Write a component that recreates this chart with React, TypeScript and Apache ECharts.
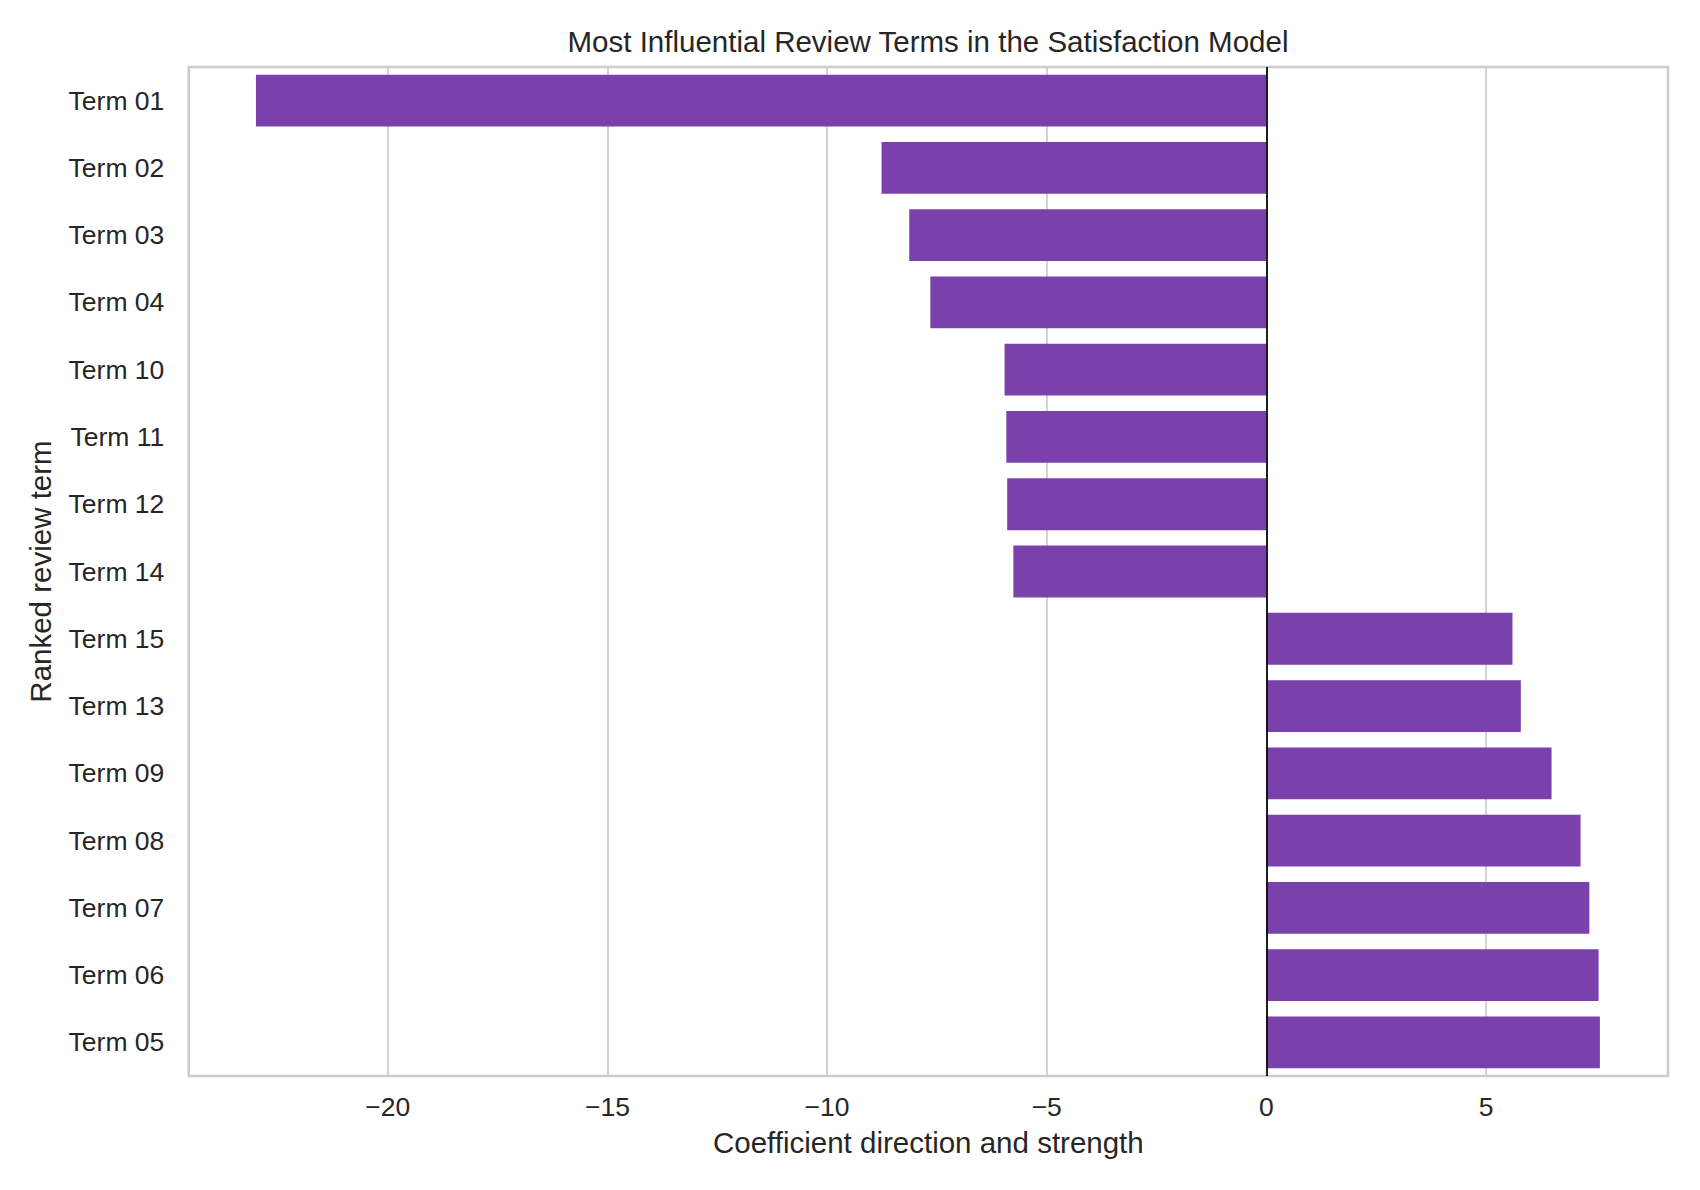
import React, { useEffect, useRef } from "react";
import * as echarts from "echarts";

const terms: string[] = [
  "Term 01", "Term 02", "Term 03", "Term 04", "Term 10",
  "Term 11", "Term 12", "Term 14", "Term 15", "Term 13",
  "Term 09", "Term 08", "Term 07", "Term 06", "Term 05",
];

const coefficients: number[] = [
  -23.0, -8.76, -8.13, -7.65, -5.96,
  -5.92, -5.9, -5.76, 5.6, 5.79,
  6.49, 7.15, 7.35, 7.56, 7.59,
];

const xMin = -24.53;
const xMax = 9.14;

const titleText = "Most Influential Review Terms in the Satisfaction Model";
const xName = "Coefficient direction and strength";
const yName = "Ranked review term";

const FONT = "'Liberation Sans', Arial, sans-serif";
const TEXT = "#262626";

export default function App() {
  const ref = useRef<HTMLDivElement>(null);

  useEffect(() => {
    document.body.style.margin = "0";
    if (!ref.current) return;
    const chart = echarts.init(ref.current, undefined, { renderer: "svg" });
    chart.setOption({
      animation: false,
      backgroundColor: "#ffffff",
      textStyle: { fontFamily: FONT, color: TEXT },
      title: {
        text: titleText,
        left: 928,
        top: 26.5,
        padding: 0,
        textAlign: "center",
        textStyle: { fontFamily: FONT, fontSize: 29.5, fontWeight: "normal", color: TEXT },
      },
      grid: {
        left: 188.7,
        right: 32,
        top: 67,
        bottom: 114,
        show: true,
        borderColor: "#cccccc",
        borderWidth: 2.5,
        backgroundColor: "transparent",
        containLabel: false,
      },
      xAxis: {
        type: "value",
        min: xMin,
        max: xMax,
        splitNumber: 6,
        name: xName,
        nameLocation: "middle",
        nameGap: 51,
        nameTextStyle: { fontFamily: FONT, fontSize: 29.5, color: TEXT },
        axisLine: { show: false },
        axisTick: { show: false },
        splitLine: { show: true, lineStyle: { color: "#cccccc", width: 1.7 } },
        axisLabel: {
          fontFamily: FONT,
          fontSize: 26.5,
          color: TEXT,
          margin: 17.5,
          formatter: (v: number) => {
            if (Math.abs(v - Math.round(v / 5) * 5) > 1e-6) return "";
            const r = Math.round(v);
            return r < 0 ? "\u2212" + Math.abs(r) : String(r);
          },
        },
      },
      yAxis: {
        type: "category",
        data: terms,
        inverse: true,
        name: yName,
        nameLocation: "middle",
        nameGap: 133.5,
        nameTextStyle: { fontFamily: FONT, fontSize: 29.5, color: TEXT },
        axisLine: { show: false },
        axisTick: { show: false },
        splitLine: { show: false },
        axisLabel: { fontFamily: FONT, fontSize: 26.5, color: TEXT, margin: 24.4 },
      },
      series: [
        {
          type: "bar",
          data: coefficients,
          barWidth: "77%",
          itemStyle: { color: "#7a40ac" },
          markLine: {
            silent: true,
            symbol: ["none", "none"],
            label: { show: false },
            lineStyle: { color: "#000000", width: 1.7, type: "solid" },
            data: [{ xAxis: 0 }],
          },
        },
      ],
    });
    return () => chart.dispose();
  }, []);

  return <div ref={ref} style={{ width: 1700, height: 1190 }} />;
}
